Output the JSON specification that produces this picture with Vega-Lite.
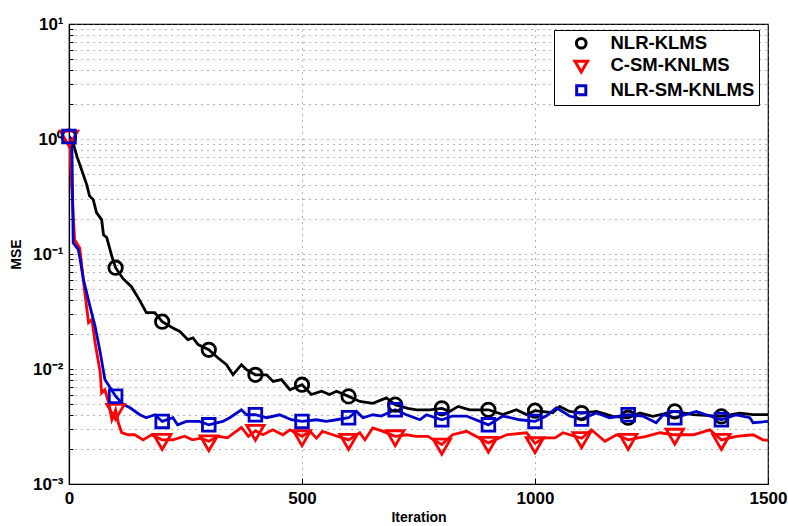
{
  "$schema": "https://vega.github.io/schema/vega-lite/v6.json",
  "width": 699,
  "height": 460,
  "autosize": {"type": "none"},
  "padding": {"left": 69, "top": 24, "right": 20, "bottom": 42},
  "background": "white",
  "config": {
    "font": "Liberation Sans",
    "view": {"stroke": "black", "strokeWidth": 1.2},
    "axis": {
      "labelFont": "Liberation Sans", "labelFontWeight": "bold", "labelFontSize": 17, "labelColor": "black",
      "titleFont": "Liberation Sans", "titleFontWeight": "bold", "titleFontSize": 14, "titleColor": "black",
      "domainColor": "black", "domainWidth": 1.2, "tickColor": "black", "tickWidth": 1,
      "gridColor": "#666666", "gridDash": [1, 5], "gridOpacity": 1, "gridWidth": 1
    }
  },
  "datasets": {
    "curves": [
      {"series":"NLR-KLMS","iteration":0,"mse":1.05},{"series":"NLR-KLMS","iteration":8,"mse":0.95},{"series":"NLR-KLMS","iteration":17,"mse":0.706},{"series":"NLR-KLMS","iteration":27,"mse":0.541},{"series":"NLR-KLMS","iteration":38,"mse":0.401},{"series":"NLR-KLMS","iteration":44,"mse":0.32},{"series":"NLR-KLMS","iteration":52,"mse":0.297},{"series":"NLR-KLMS","iteration":59,"mse":0.229},{"series":"NLR-KLMS","iteration":70,"mse":0.199},{"series":"NLR-KLMS","iteration":74,"mse":0.147},{"series":"NLR-KLMS","iteration":81,"mse":0.139},{"series":"NLR-KLMS","iteration":92,"mse":0.0953},{"series":"NLR-KLMS","iteration":100,"mse":0.076},{"series":"NLR-KLMS","iteration":116,"mse":0.061},{"series":"NLR-KLMS","iteration":134,"mse":0.052},{"series":"NLR-KLMS","iteration":152,"mse":0.0393},{"series":"NLR-KLMS","iteration":166,"mse":0.0309},{"series":"NLR-KLMS","iteration":184,"mse":0.0309},{"series":"NLR-KLMS","iteration":200,"mse":0.0258},{"series":"NLR-KLMS","iteration":223,"mse":0.0227},{"series":"NLR-KLMS","iteration":238,"mse":0.0212},{"series":"NLR-KLMS","iteration":255,"mse":0.018},{"series":"NLR-KLMS","iteration":266,"mse":0.0186},{"series":"NLR-KLMS","iteration":277,"mse":0.0163},{"series":"NLR-KLMS","iteration":300,"mse":0.0147},{"series":"NLR-KLMS","iteration":320,"mse":0.01247},{"series":"NLR-KLMS","iteration":338,"mse":0.0109},{"series":"NLR-KLMS","iteration":352,"mse":0.00892},{"series":"NLR-KLMS","iteration":370,"mse":0.0109},{"series":"NLR-KLMS","iteration":381,"mse":0.00986},{"series":"NLR-KLMS","iteration":400,"mse":0.0089},{"series":"NLR-KLMS","iteration":424,"mse":0.0089},{"series":"NLR-KLMS","iteration":438,"mse":0.0078},{"series":"NLR-KLMS","iteration":456,"mse":0.0081},{"series":"NLR-KLMS","iteration":474,"mse":0.0066},{"series":"NLR-KLMS","iteration":500,"mse":0.0073},{"series":"NLR-KLMS","iteration":520,"mse":0.006},{"series":"NLR-KLMS","iteration":542,"mse":0.0064},{"series":"NLR-KLMS","iteration":559,"mse":0.006},{"series":"NLR-KLMS","iteration":574,"mse":0.0064},{"series":"NLR-KLMS","iteration":600,"mse":0.00578},{"series":"NLR-KLMS","iteration":624,"mse":0.00522},{"series":"NLR-KLMS","iteration":652,"mse":0.00503},{"series":"NLR-KLMS","iteration":681,"mse":0.0056},{"series":"NLR-KLMS","iteration":700,"mse":0.0049},{"series":"NLR-KLMS","iteration":727,"mse":0.00455},{"series":"NLR-KLMS","iteration":746,"mse":0.00442},{"series":"NLR-KLMS","iteration":774,"mse":0.00442},{"series":"NLR-KLMS","iteration":800,"mse":0.00455},{"series":"NLR-KLMS","iteration":817,"mse":0.00428},{"series":"NLR-KLMS","iteration":835,"mse":0.00473},{"series":"NLR-KLMS","iteration":860,"mse":0.00442},{"series":"NLR-KLMS","iteration":900,"mse":0.00442},{"series":"NLR-KLMS","iteration":931,"mse":0.00401},{"series":"NLR-KLMS","iteration":960,"mse":0.00442},{"series":"NLR-KLMS","iteration":982,"mse":0.00401},{"series":"NLR-KLMS","iteration":1000,"mse":0.00434},{"series":"NLR-KLMS","iteration":1038,"mse":0.00417},{"series":"NLR-KLMS","iteration":1053,"mse":0.00473},{"series":"NLR-KLMS","iteration":1074,"mse":0.00428},{"series":"NLR-KLMS","iteration":1100,"mse":0.00414},{"series":"NLR-KLMS","iteration":1132,"mse":0.00428},{"series":"NLR-KLMS","iteration":1167,"mse":0.00387},{"series":"NLR-KLMS","iteration":1200,"mse":0.00377},{"series":"NLR-KLMS","iteration":1225,"mse":0.00414},{"series":"NLR-KLMS","iteration":1253,"mse":0.00387},{"series":"NLR-KLMS","iteration":1300,"mse":0.00428},{"series":"NLR-KLMS","iteration":1339,"mse":0.00401},{"series":"NLR-KLMS","iteration":1400,"mse":0.00387},{"series":"NLR-KLMS","iteration":1439,"mse":0.00414},{"series":"NLR-KLMS","iteration":1468,"mse":0.00401},{"series":"NLR-KLMS","iteration":1500,"mse":0.00401},
      {"series":"C-SM-KNLMS","iteration":0,"mse":1.05},{"series":"C-SM-KNLMS","iteration":12,"mse":0.133},{"series":"C-SM-KNLMS","iteration":23,"mse":0.113},{"series":"C-SM-KNLMS","iteration":34,"mse":0.046},{"series":"C-SM-KNLMS","iteration":42,"mse":0.0253},{"series":"C-SM-KNLMS","iteration":49,"mse":0.0269},{"series":"C-SM-KNLMS","iteration":56,"mse":0.0169},{"series":"C-SM-KNLMS","iteration":67,"mse":0.0093},{"series":"C-SM-KNLMS","iteration":70,"mse":0.0062},{"series":"C-SM-KNLMS","iteration":77,"mse":0.0066},{"series":"C-SM-KNLMS","iteration":85,"mse":0.0051},{"series":"C-SM-KNLMS","iteration":92,"mse":0.00362},{"series":"C-SM-KNLMS","iteration":100,"mse":0.0044},{"series":"C-SM-KNLMS","iteration":106,"mse":0.00339},{"series":"C-SM-KNLMS","iteration":113,"mse":0.0028},{"series":"C-SM-KNLMS","iteration":127,"mse":0.00268},{"series":"C-SM-KNLMS","iteration":141,"mse":0.00268},{"series":"C-SM-KNLMS","iteration":159,"mse":0.00242},{"series":"C-SM-KNLMS","iteration":177,"mse":0.00268},{"series":"C-SM-KNLMS","iteration":200,"mse":0.00242},{"series":"C-SM-KNLMS","iteration":223,"mse":0.00242},{"series":"C-SM-KNLMS","iteration":248,"mse":0.0026},{"series":"C-SM-KNLMS","iteration":265,"mse":0.00242},{"series":"C-SM-KNLMS","iteration":283,"mse":0.0025},{"series":"C-SM-KNLMS","iteration":300,"mse":0.00235},{"series":"C-SM-KNLMS","iteration":320,"mse":0.0026},{"series":"C-SM-KNLMS","iteration":340,"mse":0.00252},{"series":"C-SM-KNLMS","iteration":355,"mse":0.0028},{"series":"C-SM-KNLMS","iteration":370,"mse":0.0031},{"series":"C-SM-KNLMS","iteration":385,"mse":0.0026},{"series":"C-SM-KNLMS","iteration":400,"mse":0.0029},{"series":"C-SM-KNLMS","iteration":416,"mse":0.00268},{"series":"C-SM-KNLMS","iteration":437,"mse":0.00296},{"series":"C-SM-KNLMS","iteration":459,"mse":0.00268},{"series":"C-SM-KNLMS","iteration":474,"mse":0.00296},{"series":"C-SM-KNLMS","iteration":500,"mse":0.0026},{"series":"C-SM-KNLMS","iteration":517,"mse":0.00287},{"series":"C-SM-KNLMS","iteration":531,"mse":0.0025},{"series":"C-SM-KNLMS","iteration":544,"mse":0.00287},{"series":"C-SM-KNLMS","iteration":566,"mse":0.00268},{"series":"C-SM-KNLMS","iteration":600,"mse":0.00242},{"series":"C-SM-KNLMS","iteration":624,"mse":0.00279},{"series":"C-SM-KNLMS","iteration":635,"mse":0.00242},{"series":"C-SM-KNLMS","iteration":652,"mse":0.00308},{"series":"C-SM-KNLMS","iteration":674,"mse":0.00287},{"series":"C-SM-KNLMS","iteration":700,"mse":0.0026},{"series":"C-SM-KNLMS","iteration":724,"mse":0.00268},{"series":"C-SM-KNLMS","iteration":745,"mse":0.0026},{"series":"C-SM-KNLMS","iteration":770,"mse":0.0026},{"series":"C-SM-KNLMS","iteration":800,"mse":0.0022},{"series":"C-SM-KNLMS","iteration":823,"mse":0.00268},{"series":"C-SM-KNLMS","iteration":853,"mse":0.00287},{"series":"C-SM-KNLMS","iteration":900,"mse":0.00228},{"series":"C-SM-KNLMS","iteration":939,"mse":0.00268},{"series":"C-SM-KNLMS","iteration":982,"mse":0.00279},{"series":"C-SM-KNLMS","iteration":1000,"mse":0.00226},{"series":"C-SM-KNLMS","iteration":1021,"mse":0.00252},{"series":"C-SM-KNLMS","iteration":1043,"mse":0.00252},{"series":"C-SM-KNLMS","iteration":1060,"mse":0.00279},{"series":"C-SM-KNLMS","iteration":1100,"mse":0.0025},{"series":"C-SM-KNLMS","iteration":1121,"mse":0.00296},{"series":"C-SM-KNLMS","iteration":1150,"mse":0.00235},{"series":"C-SM-KNLMS","iteration":1175,"mse":0.00268},{"series":"C-SM-KNLMS","iteration":1200,"mse":0.00242},{"series":"C-SM-KNLMS","iteration":1239,"mse":0.0026},{"series":"C-SM-KNLMS","iteration":1268,"mse":0.00279},{"series":"C-SM-KNLMS","iteration":1300,"mse":0.00268},{"series":"C-SM-KNLMS","iteration":1340,"mse":0.00268},{"series":"C-SM-KNLMS","iteration":1375,"mse":0.00296},{"series":"C-SM-KNLMS","iteration":1400,"mse":0.00242},{"series":"C-SM-KNLMS","iteration":1432,"mse":0.0026},{"series":"C-SM-KNLMS","iteration":1468,"mse":0.00268},{"series":"C-SM-KNLMS","iteration":1489,"mse":0.00242},{"series":"C-SM-KNLMS","iteration":1500,"mse":0.0024},
      {"series":"NLR-SM-KNLMS","iteration":0,"mse":1.05},{"series":"NLR-SM-KNLMS","iteration":6,"mse":0.99},{"series":"NLR-SM-KNLMS","iteration":9,"mse":0.125},{"series":"NLR-SM-KNLMS","iteration":20,"mse":0.109},{"series":"NLR-SM-KNLMS","iteration":24,"mse":0.089},{"series":"NLR-SM-KNLMS","iteration":31,"mse":0.0598},{"series":"NLR-SM-KNLMS","iteration":45,"mse":0.035},{"series":"NLR-SM-KNLMS","iteration":56,"mse":0.0235},{"series":"NLR-SM-KNLMS","iteration":67,"mse":0.0139},{"series":"NLR-SM-KNLMS","iteration":77,"mse":0.0081},{"series":"NLR-SM-KNLMS","iteration":88,"mse":0.0069},{"series":"NLR-SM-KNLMS","iteration":100,"mse":0.0058},{"series":"NLR-SM-KNLMS","iteration":117,"mse":0.0049},{"series":"NLR-SM-KNLMS","iteration":131,"mse":0.0046},{"series":"NLR-SM-KNLMS","iteration":152,"mse":0.004},{"series":"NLR-SM-KNLMS","iteration":166,"mse":0.00377},{"series":"NLR-SM-KNLMS","iteration":184,"mse":0.004},{"series":"NLR-SM-KNLMS","iteration":200,"mse":0.0035},{"series":"NLR-SM-KNLMS","iteration":223,"mse":0.00377},{"series":"NLR-SM-KNLMS","iteration":233,"mse":0.00327},{"series":"NLR-SM-KNLMS","iteration":252,"mse":0.0035},{"series":"NLR-SM-KNLMS","iteration":280,"mse":0.0035},{"series":"NLR-SM-KNLMS","iteration":300,"mse":0.00327},{"series":"NLR-SM-KNLMS","iteration":330,"mse":0.0035},{"series":"NLR-SM-KNLMS","iteration":345,"mse":0.00377},{"series":"NLR-SM-KNLMS","iteration":370,"mse":0.00442},{"series":"NLR-SM-KNLMS","iteration":381,"mse":0.004},{"series":"NLR-SM-KNLMS","iteration":400,"mse":0.004},{"series":"NLR-SM-KNLMS","iteration":424,"mse":0.00377},{"series":"NLR-SM-KNLMS","iteration":452,"mse":0.004},{"series":"NLR-SM-KNLMS","iteration":477,"mse":0.00362},{"series":"NLR-SM-KNLMS","iteration":500,"mse":0.0035},{"series":"NLR-SM-KNLMS","iteration":531,"mse":0.00362},{"series":"NLR-SM-KNLMS","iteration":552,"mse":0.0035},{"series":"NLR-SM-KNLMS","iteration":574,"mse":0.00362},{"series":"NLR-SM-KNLMS","iteration":600,"mse":0.00377},{"series":"NLR-SM-KNLMS","iteration":617,"mse":0.00428},{"series":"NLR-SM-KNLMS","iteration":631,"mse":0.00377},{"series":"NLR-SM-KNLMS","iteration":652,"mse":0.004},{"series":"NLR-SM-KNLMS","iteration":670,"mse":0.0039},{"series":"NLR-SM-KNLMS","iteration":700,"mse":0.00442},{"series":"NLR-SM-KNLMS","iteration":724,"mse":0.004},{"series":"NLR-SM-KNLMS","iteration":753,"mse":0.00362},{"series":"NLR-SM-KNLMS","iteration":767,"mse":0.004},{"series":"NLR-SM-KNLMS","iteration":800,"mse":0.00362},{"series":"NLR-SM-KNLMS","iteration":823,"mse":0.0039},{"series":"NLR-SM-KNLMS","iteration":853,"mse":0.0039},{"series":"NLR-SM-KNLMS","iteration":900,"mse":0.00327},{"series":"NLR-SM-KNLMS","iteration":931,"mse":0.0039},{"series":"NLR-SM-KNLMS","iteration":967,"mse":0.00362},{"series":"NLR-SM-KNLMS","iteration":1000,"mse":0.0035},{"series":"NLR-SM-KNLMS","iteration":1024,"mse":0.0039},{"series":"NLR-SM-KNLMS","iteration":1046,"mse":0.0046},{"series":"NLR-SM-KNLMS","iteration":1074,"mse":0.0039},{"series":"NLR-SM-KNLMS","iteration":1100,"mse":0.00367},{"series":"NLR-SM-KNLMS","iteration":1132,"mse":0.00414},{"series":"NLR-SM-KNLMS","iteration":1160,"mse":0.00377},{"series":"NLR-SM-KNLMS","iteration":1200,"mse":0.004},{"series":"NLR-SM-KNLMS","iteration":1231,"mse":0.0039},{"series":"NLR-SM-KNLMS","iteration":1260,"mse":0.00341},{"series":"NLR-SM-KNLMS","iteration":1275,"mse":0.004},{"series":"NLR-SM-KNLMS","iteration":1300,"mse":0.00377},{"series":"NLR-SM-KNLMS","iteration":1346,"mse":0.00428},{"series":"NLR-SM-KNLMS","iteration":1375,"mse":0.0039},{"series":"NLR-SM-KNLMS","iteration":1400,"mse":0.00362},{"series":"NLR-SM-KNLMS","iteration":1432,"mse":0.004},{"series":"NLR-SM-KNLMS","iteration":1461,"mse":0.00377},{"series":"NLR-SM-KNLMS","iteration":1468,"mse":0.00341},{"series":"NLR-SM-KNLMS","iteration":1500,"mse":0.0035}
    ]
  },
  "data": {"name": "curves"},
  "encoding": {
    "x": {
      "field": "iteration", "type": "quantitative",
      "scale": {"domain": [0, 1500], "nice": false, "zero": false},
      "axis": {"values": [0, 500, 1000, 1500], "format": "d", "title": "Iteration", "grid": true, "ticks": true, "tickSize": -6, "labelPadding": 12, "labelFlush": false, "titleY": 26, "titleBaseline": "top"}
    },
    "y": {
      "field": "mse", "type": "quantitative",
      "scale": {"type": "log", "domain": [0.001, 10], "nice": false},
      "axis": {
        "values": [0.001,0.002,0.003,0.004,0.005,0.006,0.007,0.008,0.009,0.01,0.02,0.03,0.04,0.05,0.06,0.07,0.08,0.09,0.1,0.2,0.3,0.4,0.5,0.6,0.7,0.8,0.9,1,2,3,4,5,6,7,8,9,10],
        "labelExpr": "datum.value == 10 ? '10¹' : datum.value == 1 ? '10⁰' : datum.value == 0.1 ? '10⁻¹' : datum.value == 0.01 ? '10⁻²' : datum.value == 0.001 ? '10⁻³' : ''",
        "title": "MSE", "grid": true, "ticks": true, "tickSize": -4, "labelPadding": 10, "labelFlush": false, "labelOverlap": false,
        "titleX": -46, "titleBaseline": "bottom"
      }
    },
    "color": {
      "field": "series", "type": "nominal",
      "scale": {"domain": ["NLR-KLMS", "C-SM-KNLMS", "NLR-SM-KNLMS"], "range": ["#000000", "#ff0000", "#0000cc"]},
      "legend": {
        "orient": "none", "legendX": 485, "legendY": 6, "title": null,
        "strokeColor": "black", "fillColor": "white", "padding": 4,
        "labelFont": "Liberation Sans", "labelFontWeight": "bold", "labelFontSize": 18.5, "labelColor": "black",
        "symbolStrokeWidth": 3, "symbolSize": 130, "symbolOffset": 14, "labelOffset": 20, "rowPadding": 0
      }
    }
  },
  "layer": [
    {"mark": {"type": "line", "strokeWidth": 2.8, "clip": true}},
    {
      "transform": [{"filter": "datum.iteration % 100 == 0 && datum.iteration < 1500"}],
      "mark": {"type": "point", "filled": false, "strokeWidth": 2.8, "opacity": 1, "size": 250, "clip": false},
      "encoding": {
        "shape": {"field": "series", "type": "nominal", "scale": {"domain": ["NLR-KLMS", "C-SM-KNLMS", "NLR-SM-KNLMS"], "range": ["M0.85,0A0.85,0.85,0,1,1,-0.85,0A0.85,0.85,0,1,1,0.85,0Z", "M-1.1,-0.7L1.1,-0.7L0,1.2Z", "M-0.8,-0.8L0.8,-0.8L0.8,0.8L-0.8,0.8Z"]}}
      }
    }
  ]
}
